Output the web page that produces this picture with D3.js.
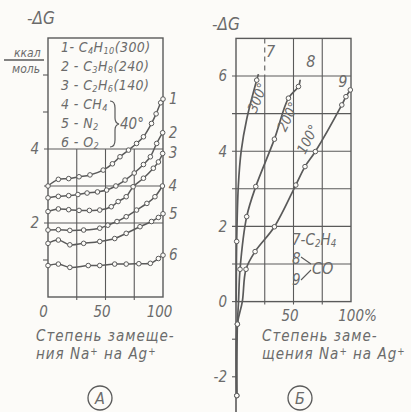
<!DOCTYPE html>
<html>
<head>
<meta charset="utf-8">
<script src="https://cdn.jsdelivr.net/npm/d3@7"></script>
<style>
  body { margin: 0; background: #fcfbf8; }
  svg { display: block; }
  text { font-family: "Liberation Sans Narrow", "DejaVu Sans Condensed", "Liberation Sans", sans-serif; font-style: italic; fill: #6b6b6b; }
</style>
</head>
<body>
<script>
///////////////////////////////////////////////////////
// data

// panel A: -dG (kcal/mol) vs degree of Na+ -> Ag+ exchange, %
var curveNamesA = ["1", "2", "3", "4", "5", "6"];
var c1 = [[0,3.0],[9,3.18],[18,3.2],[27,3.25],[36.5,3.3],[48,3.43],[56,3.6],[62.6,3.79],[70,3.97],[77,4.15],[83,4.33],[90,4.69],[94,4.95],[98,5.25],[100,5.35]];
var c2 = [[0,2.68],[9,2.72],[18,2.74],[26,2.77],[34,2.81],[43,2.84],[51,2.89],[59,3.0],[67,3.16],[75,3.35],[83,3.58],[89,3.79],[94.5,4.15],[99.7,4.44]];
var c3 = [[0,2.31],[9,2.38],[18,2.36],[27,2.34],[36,2.34],[45,2.35],[55,2.44],[61,2.58],[68,2.71],[74,2.98],[83,3.21],[91.6,3.48],[96,3.65],[99.7,3.88]];
var c4 = [[0,1.81],[9,1.82],[19,1.8],[31,1.81],[45,1.86],[52,1.94],[60,2.04],[68,2.17],[77,2.35],[86,2.53],[93,2.71],[99.5,3.0]];
var c5 = [[0,1.45],[9,1.54],[19,1.41],[31,1.45],[45,1.5],[58,1.58],[68,1.72],[80,1.9],[90,2.04],[96,2.15],[100,2.25]];
var c6 = [[0,0.85],[9,0.89],[19,0.8],[35,0.85],[45,0.85],[58,0.89],[68,0.89],[79,0.9],[89,0.91],[96,1.04],[100,1.13]];
var legendA = ["1- C|4|H|10|(300)", "2 - C|3|H|8|(240)", "3 - C|2|H|6|(140)", "4 - CH|4|", "5 - N|2|", "6 - O|2|"];

// panel B
var c7 = [[0.2,0],[0.6,1.6],[2,3.06],[4.5,4.0],[9.3,4.85],[18,5.89],[19.5,6.05]];
var c8 = [[0.7,-2.5],[1.2,-0.6],[2.2,0],[3.5,0.86],[9.3,2.26],[17.2,3.06],[33.4,4.32],[45.6,5.41],[54.3,5.72],[55.8,5.9]];
var c9 = [[0.7,-2.5],[1.2,-0.6],[5.5,0],[8.7,0.86],[16.6,1.33],[33.4,1.99],[52,3.1],[60,3.59],[69,3.99],[92,5.23],[95.6,5.45],[99.4,5.63]];
// which points carry a circle marker
var marks7 = [1, 5];
var marks8 = [0, 1, 3, 4, 5, 6, 7, 8];
var marks9 = [0, 1, 3, 4, 5, 6, 7, 8, 9, 10, 11];
var tempsB = ["300°", "200°", "100°"];

var ticksA = [2, 4];
var ticksB = [-2, 0, 2, 4, 6];

///////////////////////////////////////////////////////
// svg

var w = 411, h = 412;
var ink = "#5a5a5a";
var svg = d3.select("body").append("svg")
  .attr("width", w)
  .attr("height", h);

// scales
var xA = d3.scaleLinear().domain([0, 100]).range([48, 163]);
var yA = d3.scaleLinear().domain([0, 7]).range([297, 38]);
var xB = d3.scaleLinear().domain([0, 100]).range([236, 351]);
var yB = d3.scaleLinear().domain([-2, 7]).range([376.8, 38.4]);

function line(x, y) {
  return d3.line()
    .x(function(d) { return x(d[0]); })
    .y(function(d) { return y(d[1]); })
    .curve(d3.curveCatmullRom.alpha(0.5));
}

// text with sub/superscripts: "C|4|H" -> odd parts are lowered
function rich(sel, str, mode) {
  str.split("|").forEach(function(p, i) {
    if (!p) return;
    var t = sel.append("tspan").text(p);
    if (i % 2 == 1) {
      t.attr("font-size", "0.65em").attr("baseline-shift", mode == "super" ? "40%" : "-20%");
    }
  });
}

///////////////////////////////////////////////////////
// panel A frame and grid

var gA = svg.append("g");
gA.append("rect")
  .attr("x", xA(0)).attr("y", yA(7))
  .attr("width", xA(100) - xA(0)).attr("height", yA(0) - yA(7))
  .attr("fill", "none").attr("stroke", ink).attr("stroke-width", 1.4);
[25, 50, 75].forEach(function(v) {
  gA.append("line")
    .attr("x1", xA(v)).attr("x2", xA(v))
    .attr("y1", yA(4)).attr("y2", yA(0) + 3)
    .attr("stroke", ink).attr("stroke-width", 1.1);
});
[2, 3, 4].forEach(function(v) {
  gA.append("line")
    .attr("x1", xA(0) - 4).attr("x2", xA(100))
    .attr("y1", yA(v)).attr("y2", yA(v))
    .attr("stroke", ink).attr("stroke-width", 1.1);
});
[1, 5, 6].forEach(function(v) {
  gA.append("line")
    .attr("x1", xA(0) - 5).attr("x2", xA(0))
    .attr("y1", yA(v)).attr("y2", yA(v))
    .attr("stroke", ink).attr("stroke-width", 1.1);
});

var yAxisA = d3.axisLeft(yA).tickValues(ticksA).tickFormat(d3.format("d")).tickSize(0).tickPadding(9);
gA.append("g")
  .attr("transform", "translate(" + xA(0) + ",0)")
  .call(yAxisA)
  .call(function(g) { g.select(".domain").remove(); })
  .selectAll("text").attr("font-size", 15).attr("fill", "#6b6b6b")
  .attr("font-family", null);

var xAxisA = d3.axisBottom(xA).tickValues([0, 50, 100]).tickSize(0).tickPadding(9);
gA.append("g")
  .attr("transform", "translate(0," + yA(0) + ")")
  .call(xAxisA)
  .call(function(g) { g.select(".domain").remove(); })
  .selectAll("text").attr("font-size", 15).attr("fill", "#6b6b6b")
  .attr("font-family", null)
  .attr("dx", function(d) { return d == 0 ? -5 : -4; });

// titles
svg.append("text").attr("x", 27).attr("y", 24).attr("font-size", 17).text("-ΔG");
svg.append("text").attr("x", 14).attr("y", 57).attr("font-size", 12).text("ккал");
svg.append("line").attr("x1", 4).attr("x2", 44).attr("y1", 60).attr("y2", 60)
  .attr("stroke", ink).attr("stroke-width", 1.3);
svg.append("text").attr("x", 12).attr("y", 73).attr("font-size", 12).text("моль");

// legend A
legendA.forEach(function(s, i) {
  var t = gA.append("text")
    .attr("x", 61).attr("y", 52 + i * 19)
    .attr("font-size", 14)
    .attr("letter-spacing", 0.4);
  rich(t, s);
});
gA.append("path")
  .attr("d", "M110,101 Q115,101 115,108 L115,118 Q115,123 119,124 Q115,125 115,130 L115,140 Q115,147 110,147")
  .attr("fill", "none").attr("stroke", ink).attr("stroke-width", 1.2);
gA.append("text").attr("x", 120).attr("y", 129).attr("font-size", 15).text("40°");

// curves A
var curvesA = [c1, c2, c3, c4, c5, c6];
var lA = line(xA, yA);
curvesA.forEach(function(c, i) {
  gA.append("path")
    .attr("d", lA(c))
    .attr("fill", "none").attr("stroke", ink).attr("stroke-width", 1.5);
  gA.selectAll(".pt" + i)
    .data(c)
    .enter().append("circle")
    .attr("cx", function(d) { return xA(d[0]); })
    .attr("cy", function(d) { return yA(d[1]); })
    .attr("r", 2.3)
    .attr("fill", "#fcfbf8").attr("stroke", ink).attr("stroke-width", 1);
  var last = c[c.length - 1];
  gA.append("text")
    .attr("x", xA(last[0]) + 6)
    .attr("y", yA(last[1]) + 5)
    .attr("font-size", 15)
    .text(curveNamesA[i]);
});

// axis title A
svg.append("text").attr("x", 36).attr("y", 341).attr("font-size", 15)
  .attr("letter-spacing", 1).text("Степень  замеще-");
var tA2 = svg.append("text").attr("x", 36).attr("y", 359).attr("font-size", 15)
  .attr("letter-spacing", 1);
rich(tA2, "ния  Na|+| на Ag|+|", "super");
svg.append("circle").attr("cx", 100).attr("cy", 398).attr("r", 12)
  .attr("fill", "none").attr("stroke", ink).attr("stroke-width", 1.3);
svg.append("text").attr("x", 100).attr("y", 404).attr("font-size", 16)
  .attr("text-anchor", "middle").text("A");

///////////////////////////////////////////////////////
// panel B frame and grid

var gB = svg.append("g");
gB.append("rect")
  .attr("x", xB(0)).attr("y", yB(7))
  .attr("width", xB(100) - xB(0)).attr("height", yB(0) - yB(7))
  .attr("fill", "none").attr("stroke", ink).attr("stroke-width", 1.4);
[25, 50, 75].forEach(function(v) {
  gB.append("line")
    .attr("x1", xB(v)).attr("x2", xB(v))
    .attr("y1", v == 25 ? yB(6) : yB(7)).attr("y2", yB(0) + 3)
    .attr("stroke", ink).attr("stroke-width", 1.1);
});
gB.append("line")
  .attr("x1", xB(25)).attr("x2", xB(25))
  .attr("y1", yB(7)).attr("y2", yB(6))
  .attr("stroke", ink).attr("stroke-width", 1.1)
  .attr("stroke-dasharray", "5,4");
[1, 2, 3, 4, 5, 6].forEach(function(v) {
  gB.append("line")
    .attr("x1", xB(0) - 4).attr("x2", xB(100))
    .attr("y1", yB(v)).attr("y2", yB(v))
    .attr("stroke", ink).attr("stroke-width", 1.1);
});
// left axis continues below zero
gB.append("line")
  .attr("x1", xB(0)).attr("x2", xB(0))
  .attr("y1", yB(0)).attr("y2", h)
  .attr("stroke", ink).attr("stroke-width", 1.6);
[0, -1, -2].forEach(function(v) {
  gB.append("line")
    .attr("x1", xB(0) - 4).attr("x2", xB(0))
    .attr("y1", yB(v)).attr("y2", yB(v))
    .attr("stroke", ink).attr("stroke-width", 1.1);
});

var yAxisB = d3.axisLeft(yB).tickValues(ticksB).tickSize(0).tickPadding(9);
gB.append("g")
  .attr("transform", "translate(" + xB(0) + ",0)")
  .call(yAxisB)
  .call(function(g) { g.select(".domain").remove(); })
  .selectAll("text").attr("font-size", 15).attr("fill", "#6b6b6b")
  .attr("font-family", null)
  .text(function(d) { return d < 0 ? "-" + Math.abs(d) : d; });

var xAxisB = d3.axisBottom(xB).tickValues([50, 100]).tickSize(0).tickPadding(9);
gB.append("g")
  .attr("transform", "translate(0," + yB(0) + ")")
  .call(xAxisB)
  .call(function(g) { g.select(".domain").remove(); })
  .selectAll("text").attr("font-size", 15).attr("fill", "#6b6b6b")
  .attr("font-family", null)
  .attr("dx", function(d) { return d == 100 ? 6 : -4; })
  .text(function(d) { return d == 100 ? "100%" : d; });

svg.append("text").attr("x", 212).attr("y", 30).attr("font-size", 17).text("-ΔG");

// curves B
var lB = line(xB, yB);
var curvesB = [c7, c8, c9];
var marksB = [marks7, marks8, marks9];
curvesB.forEach(function(c, i) {
  gB.append("path")
    .attr("d", lB(c))
    .attr("fill", "none").attr("stroke", ink).attr("stroke-width", 1.7);
  gB.selectAll(".ptb" + i)
    .data(marksB[i].map(function(k) { return c[k]; }))
    .enter().append("circle")
    .attr("cx", function(d) { return xB(d[0]); })
    .attr("cy", function(d) { return yB(d[1]); })
    .attr("r", 2.3)
    .attr("fill", "#fcfbf8").attr("stroke", ink).attr("stroke-width", 1);
});

// curve numbers and temperatures
var numPos = [[26, 6.5], [61, 6.25], [89, 5.72]];
["7", "8", "9"].forEach(function(s, i) {
  gB.append("text")
    .attr("x", xB(numPos[i][0])).attr("y", yB(numPos[i][1]))
    .attr("font-size", 16).text(s);
});
var tempPos = [[17.5, 5.0, -68], [43, 4.5, -64], [60, 3.9, -63]];
tempsB.forEach(function(s, i) {
  var p = tempPos[i];
  gB.append("text")
    .attr("transform", "translate(" + xB(p[0]) + "," + yB(p[1]) + ") rotate(" + p[2] + ")")
    .attr("font-size", 14).text(s);
});

// legend B
var tl = gB.append("text").attr("x", 292).attr("y", 245).attr("font-size", 15);
rich(tl, "7-C|2|H|4|");
gB.append("text").attr("x", 292).attr("y", 264).attr("font-size", 15).text("8");
gB.append("text").attr("x", 292).attr("y", 285).attr("font-size", 15).text("9");
gB.append("path").attr("d", "M301,257 L311,264 M301,280 L311,270")
  .attr("fill", "none").attr("stroke", ink).attr("stroke-width", 1.1);
gB.append("text").attr("x", 312).attr("y", 274).attr("font-size", 16).text("CO");

svg.append("text").attr("x", 262).attr("y", 341).attr("font-size", 15)
  .attr("letter-spacing", 1).text("Степень  заме-");
var tB2 = svg.append("text").attr("x", 262).attr("y", 359).attr("font-size", 15)
  .attr("letter-spacing", 1);
rich(tB2, "щения  Na|+| на Ag|+|", "super");
svg.append("circle").attr("cx", 300).attr("cy", 398).attr("r", 12)
  .attr("fill", "none").attr("stroke", ink).attr("stroke-width", 1.3);
svg.append("text").attr("x", 300).attr("y", 404).attr("font-size", 16)
  .attr("text-anchor", "middle").text("Б");
</script>
</body>
</html>
